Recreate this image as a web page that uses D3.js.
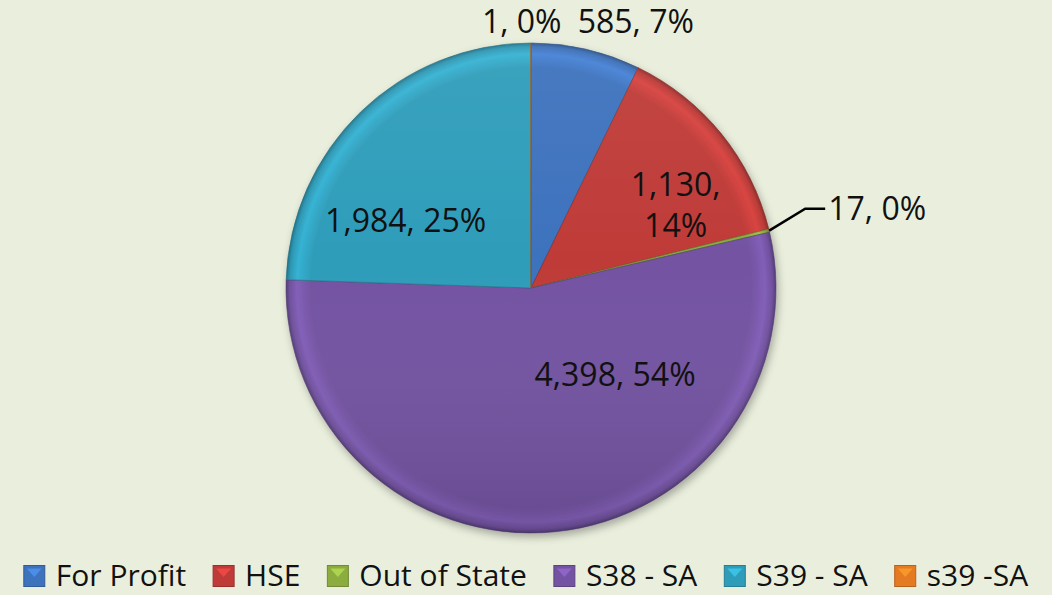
<!DOCTYPE html>
<html>
<head>
<meta charset="utf-8">
<script src="https://cdn.jsdelivr.net/npm/d3@7"></script>
<style>
  html, body { margin: 0; padding: 0; background: #eaefdd; }
  text { font-family: "Open Sans", "Noto Sans", sans-serif; fill: #111; }
</style>
</head>
<body>
<div id="chart"></div>
<script>
const categories = ['For Profit', 'HSE', 'Out of State', 'S38 - SA', 'S39 - SA', 's39 -SA'];
const values = [585, 1130, 17, 4398, 1984, 1];
const percentLabels = ['7%', '14%', '0%', '54%', '25%', '0%'];
const colors = ['#3d72bd', '#bf3b38', '#8cac40', '#7353a2', '#2f9dba', '#e47a22'];

const width = 1052;
const height = 595;
const cx = 531;
const cy = 288;
const radius = 245;

// label placement: angle deg, distance from centre, lines
const labelPlace = [
  {a: 21.5, r: 286, lines: 1},
  {a: 60, r: 167, lines: 2},
  {a: 0, r: 0, lines: 1, leader: true},
  {a: 136, r: 121, lines: 1},
  {a: 298, r: 142, lines: 1},
  {a: -2, r: 266, lines: 1}
];

const data = categories.map((c, i) => ({name: c, value: values[i], pct: percentLabels[i], color: colors[i], i}));
const fmt = d3.format(',');

const svg = d3.select('#chart')
  .append('svg')
  .attr('width', width)
  .attr('height', height);

svg.append('rect').attr('width', width).attr('height', height).attr('fill', '#eaefdd');

const defs = svg.append('defs');

const shadow = defs.append('filter').attr('id', 'shadow')
  .attr('x', '-20%').attr('y', '-20%').attr('width', '140%').attr('height', '140%');
shadow.append('feGaussianBlur').attr('in', 'SourceAlpha').attr('stdDeviation', 4);
shadow.append('feOffset').attr('dx', 2).attr('dy', 4).attr('result', 'blur');
shadow.append('feComponentTransfer').append('feFuncA').attr('type', 'linear').attr('slope', 0.3);
const merge = shadow.append('feMerge');
merge.append('feMergeNode');
merge.append('feMergeNode').attr('in', 'SourceGraphic');

// bevel: lighter rim then dark edge (gradient in the pie group's own coords)
data.forEach(d => {
  const base = d3.color(d.color);
  const g = defs.append('radialGradient').attr('id', 'grad' + d.i)
    .attr('gradientUnits', 'userSpaceOnUse')
    .attr('cx', 0).attr('cy', 0).attr('r', radius);
  g.append('stop').attr('offset', '0%').attr('stop-color', base);
  g.append('stop').attr('offset', '90%').attr('stop-color', base);
  g.append('stop').attr('offset', '95.5%').attr('stop-color', base.brighter(0.35));
  g.append('stop').attr('offset', '98.5%').attr('stop-color', base.darker(0.1));
  g.append('stop').attr('offset', '100%').attr('stop-color', base.darker(0.9));
});

const light = defs.append('linearGradient').attr('id', 'light')
  .attr('x1', 0).attr('y1', 0).attr('x2', 0).attr('y2', 1);
light.append('stop').attr('offset', '0%').attr('stop-color', '#fff').attr('stop-opacity', 0.06);
light.append('stop').attr('offset', '45%').attr('stop-color', '#fff').attr('stop-opacity', 0);
light.append('stop').attr('offset', '100%').attr('stop-color', '#000').attr('stop-opacity', 0.12);

const pie = d3.pie().sort(null).value(d => d.value);
const arc = d3.arc().innerRadius(0).outerRadius(radius);
const arcs = pie(data);

const g = svg.append('g').attr('transform', `translate(${cx},${cy})`);

const pieG = g.append('g').attr('filter', 'url(#shadow)');
pieG.selectAll('path.slice')
  .data(arcs)
  .enter()
  .append('path')
  .attr('class', 'slice')
  .attr('d', arc)
  .attr('fill', d => `url(#grad${d.data.i})`)
  .attr('stroke', d => d3.color(d.data.color).darker(1))
  .attr('stroke-opacity', 0.6)
  .attr('stroke-width', 1)
  .attr('stroke-linejoin', 'round');

g.append('circle').attr('r', radius).attr('fill', 'url(#light)').attr('pointer-events', 'none');

// labels
const fontSize = 32;
const polar = (a, r) => [r * Math.sin(a * Math.PI / 180), -r * Math.cos(a * Math.PI / 180)];

arcs.forEach((d, k) => {
  const p = labelPlace[k];
  const val = fmt(d.data.value);
  if (p.leader) {
    const mid = (d.startAngle + d.endAngle) / 2;
    const x0 = radius * Math.sin(mid), y0 = -radius * Math.cos(mid);
    const x1 = x0 + 36, y1 = y0 - 22;
    g.append('path')
      .attr('d', `M${x0},${y0}L${x1},${y1}L${x1 + 20},${y1}`)
      .attr('fill', 'none').attr('stroke', '#000').attr('stroke-width', 2.5);
    g.append('text').attr('x', x1 + 23).attr('y', y1 + 11)
      .attr('font-size', fontSize)
      .text(`${val}, ${d.data.pct}`);
    return;
  }
  const [x, y] = polar(p.a, p.r);
  const t = g.append('text').attr('text-anchor', 'middle').attr('font-size', fontSize);
  if (p.lines === 2) {
    t.append('tspan').attr('x', x).attr('y', y - 9).text(val + ',');
    t.append('tspan').attr('x', x).attr('y', y + 32).text(d.data.pct);
  } else {
    t.attr('x', x).attr('y', y + 11).text(`${val}, ${d.data.pct}`);
  }
});

// legend
const legend = svg.append('g');
const sq = 21, gapAfterSq = 11, gapItem = 27;
let lx = 0;
const items = [];
data.forEach(d => {
  const it = legend.append('g');
  const base = d3.color(d.color);
  it.append('rect').attr('x', 0).attr('y', -sq / 2).attr('width', sq).attr('height', sq)
    .attr('fill', base).attr('stroke', base.darker(0.6)).attr('stroke-width', 1);
  it.append('path').attr('d', `M3,${-sq / 2 + 3}L${sq - 3},${-sq / 2 + 3}L${sq / 2},${1}Z`)
    .attr('fill', base.brighter(0.8)).attr('opacity', 0.7);
  const tx = it.append('text').attr('x', sq + gapAfterSq).attr('y', 10).attr('font-size', 30).text(d.name);
  const w = sq + gapAfterSq + tx.node().getComputedTextLength();
  items.push({it, w});
});
const totalW = d3.sum(items, d => d.w) + gapItem * (items.length - 1);
lx = (width - totalW) / 2;
items.forEach(d => {
  d.it.attr('transform', `translate(${lx},576)`);
  lx += d.w + gapItem;
});
</script>
</body>
</html>
